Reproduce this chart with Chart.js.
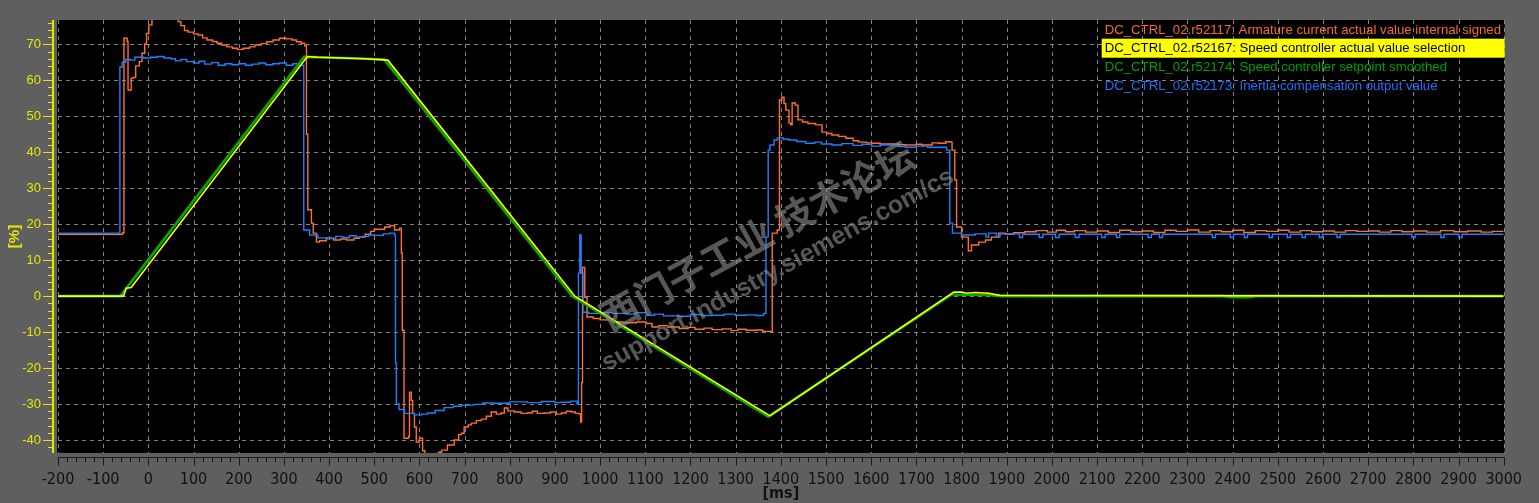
<!DOCTYPE html>
<html>
<head>
<meta charset="utf-8">
<script src="https://cdn.jsdelivr.net/npm/chart.js@4.4.1/dist/chart.umd.min.js"></script>
<style>
html, body { margin: 0; padding: 0; background: #5f5f5f; }
#wrap { width: 1539px; height: 503px; }
</style>
</head>
<body>
<div id="wrap"><canvas id="myChart" width="1539" height="503"></canvas></div>
<script>
// Trace names, as in the trace legend
var seriesNames = [
    'DC_CTRL_02.r52117: Armature current actual value internal signed',
    'DC_CTRL_02.r52167: Speed controller actual value selection',
    'DC_CTRL_02.r52174: Speed controller setpoint smoothed',
    'DC_CTRL_02.r52173: Inertia compensation output value'
];

// Tick labels
var xTicks = [-200, -100, 0, 100, 200, 300, 400, 500, 600, 700, 800, 900, 1000, 1100, 1200, 1300, 1400, 1500,
    1600, 1700, 1800, 1900, 2000, 2100, 2200, 2300, 2400, 2500, 2600, 2700, 2800, 2900, 3000];
var yTicks = [-40, -30, -20, -10, 0, 10, 20, 30, 40, 50, 60, 70];

// r52117 armature current [%] (sample-and-hold)
var curT = [-200, -57, -54, -47, -45, -38, -33, -28, -20, -14, -8, -4, 1, 8, 15, 40, 60, 66, 72, 80, 88, 100, 110, 120, 130, 142,
    152, 162, 174, 186, 197, 210, 224, 236, 250, 262, 276, 290, 305, 318, 328, 338, 346, 350, 353, 361, 365, 372, 379, 394,
    410, 425, 439, 455, 467, 480, 492, 500, 512, 523, 535, 545, 556, 560, 562, 566, 576, 578, 582, 585, 589, 593, 600, 607,
    612, 635, 642, 649, 662, 677, 687, 693, 699, 708, 715, 726, 737, 748, 759, 770, 781, 788, 796, 810, 825, 839, 850, 861,
    876, 890, 903, 914, 925, 936, 945, 954, 957, 959, 961, 966, 971, 985, 1000, 1027, 1050, 1080, 1102, 1115, 1130, 1150,
    1175, 1195, 1210, 1230, 1248, 1270, 1290, 1305, 1323, 1345, 1360, 1378, 1381, 1392, 1397, 1402, 1407, 1411, 1418, 1422,
    1425, 1432, 1438, 1448, 1460, 1477, 1491, 1502, 1513, 1528, 1544, 1560, 1572, 1590, 1601, 1620, 1639, 1660, 1676, 1700,
    1712, 1735, 1749, 1765, 1776, 1779, 1785, 1789, 1800, 1815, 1822, 1838, 1853, 1866, 1882, 1897, 1915, 1940, 1965, 1990,
    2010, 2030, 2050, 2075, 2100, 2125, 2150, 2175, 2200, 2225, 2250, 2275, 2300, 2325, 2350, 2375, 2400, 2425, 2450, 2475,
    2500, 2525, 2550, 2575, 2600, 2625, 2650, 2675, 2700, 2725, 2750, 2775, 2800, 2830, 2860, 2890, 2920, 2950, 2975, 3000];
var curV = [17.2, 17.6, 71.7, 70.8, 57.3, 60.6, 60.8, 64, 65.2, 67.5, 70, 73, 75.4, 77.5, 80, 82, 79, 76.3, 75.2, 73.8, 73.4, 72.9,
    72.6, 71.8, 71.2, 70.8, 70.3, 69.8, 69.3, 68.9, 68.6, 68.9, 69.3, 69.8, 70.2, 70.7, 71.2, 71.7, 71.5, 71.2, 70.7, 70.3,
    69.6, 45, 24, 20.3, 17.5, 15, 15.4, 16, 15.6, 15.9, 15.6, 16.1, 16.4, 17.2, 18, 18.6, 18.6, 19.2, 19.6, 18.4, 18.9, 12,
    -9.5, -39.5, -39, -26.7, -29, -32.6, -36.4, -40.6, -39.5, -43, -46, -46, -43.4, -42.8, -41.4, -40, -38.5, -38.1, -36.4,
    -35.8, -35.3, -34.6, -34.2, -33.4, -32.2, -32.8, -32.5, -31.1, -31.9, -32.2, -32.6, -32.5, -32, -32.6, -32.5, -32.2, -32.8,
    -32.5, -32, -32.2, -32.6, -32.8, -35, -24, 8, -0.3, -5.8, -6.2, -6.6, -7.2, -7.4, -7.2, -7.6, -8.6, -8.2, -8.6, -9, -8.7,
    -9.2, -8.9, -9.3, -9.1, -9.6, -9.2, -9.5, -9.4, -9.8, -10, 17.5, 18.4, 54.5, 55.3, 53.5, 51.7, 48.1, 47.6, 53.7, 53.1, 49,
    48.4, 48, 47.6, 45.6, 45.2, 44.8, 44.4, 43.9, 43.2, 42.8, 42.6, 42.5, 42.3, 42.3, 42.1, 42, 42.2, 42, 42.6, 42.5, 42.9, 42.8,
    40.6, 32.3, 19.2, 16.4, 12.6, 14.2, 15, 15.6, 16.4, 17.5, 17.2, 17.6, 17.9, 18.2, 17.8, 18.3, 17.9, 18.2, 17.8, 18.1, 17.7,
    18.3, 17.9, 18.1, 17.7, 18.3, 18, 18.4, 17.8, 18.2, 17.9, 18.3, 17.7, 18.2, 18, 18.3, 17.8, 18.2, 17.9, 18.1, 17.8, 18.2,
    18, 18.1, 17.8, 18.2, 17.9, 18.1, 17.8, 18.2, 17.9, 18.1, 17.8, 18, 18];

// r52167 speed actual value [%]
var spdT = [-200, -55, -49, -38, 352, 375, 430, 480, 530, 944, 1376, 1783, 1800, 1812, 1830, 1860, 1885, 3000];
var spdV = [0, 0, 2.2, 2.4, 66.6, 66.4, 66.2, 66.0, 65.6, 0, -33.3, 1.1, 1.1, 0.8, 1.0, 0.8, 0.2, 0];

// r52174 speed setpoint smoothed [%]
var setT = [-200, -62, 345, 380, 430, 480, 522, 938, 1372, 1778, 1790, 1860, 1885, 2380, 2395, 2440, 2450, 3000];
var setV = [0, 0, 66.5, 66.4, 66.2, 66.0, 65.8, 0, -33.5, 0.5, 0.4, 0.3, 0, 0, -0.3, -0.3, 0, 0];

// r52173 inertia compensation output [%] (sample-and-hold)
var inrT = [-200, -63, -58, -50, -40, -30, -10, 5, 20, 35, 50, 60, 72, 85, 100, 112, 125, 140, 155, 170, 185, 200, 215, 230,
    245, 260, 275, 290, 305, 320, 335, 344, 357, 375, 401, 415, 430, 445, 460, 474, 488, 500, 520, 534, 545, 547, 549, 555,
    567, 589, 605, 618, 635, 655, 675, 693, 720, 740, 766, 800, 839, 870, 900, 914, 935, 949, 952, 955, 958, 962, 975, 1000,
    1027, 1060, 1080, 1102, 1120, 1140, 1175, 1200, 1225, 1248, 1275, 1300, 1323, 1345, 1362, 1367, 1372, 1376, 1385, 1392,
    1405, 1418, 1435, 1455, 1475, 1490, 1513, 1535, 1560, 1580, 1601, 1620, 1639, 1660, 1676, 1700, 1725, 1749, 1767, 1774,
    1780, 1800, 1830, 1854, 1860, 1877, 1885, 1928, 1935, 1972, 1980, 2008, 2016, 2052, 2060, 2110, 2118, 2143, 2150, 2213,
    2220, 2238, 2245, 2355, 2362, 2395, 2402, 2426, 2433, 2481, 2488, 2521, 2528, 2554, 2561, 2592, 2599, 2631, 2638, 2797,
    2804, 2861, 2868, 2901, 2908, 3000];
var inrV = [17.5, 63.7, 65, 65.8, 65.6, 66.4, 66.2, 66.4, 66.6, 66.2, 66, 65.4, 65.8, 65.2, 64.8, 65.3, 64.5, 64.9, 64.2, 64.6,
    64.3, 64.6, 64.2, 64.5, 64.8, 64.3, 64.6, 64.8, 64.2, 64.6, 64.2, 18.4, 17, 16.2, 16.1, 16.6, 16.3, 16.8, 16.4, 16.6, 17,
    16.9, 17.3, 17.5, 17, -18.6, -30, -31.5, -32.6, -33, -32.8, -32.5, -31.8, -31, -30.6, -30.3, -30.1, -29.7, -29.8, -29.4,
    -29.6, -29.3, -29.6, -29.5, -29.2, -30, 6.4, 17, 6.4, -4.5, -4.8, -4.6, -4.8, -5, -4.6, -5.3, -5, -5.5, -5.6, -5.1, -5.4,
    -5.3, -5, -5.3, -5.2, -5.4, -4.8, 16.4, 40.6, 42, 43.4, 44, 43.6, 43.4, 43, 42.5, 42.8, 42.3, 42, 42.4, 41.9, 42.2, 41.7,
    42, 42, 41.6, 41.4, 41.7, 41.4, 41.4, 40.6, 20.3, 17.5, 17, 17.3, 16.4, 17.5, 16.4, 17.3, 16.3, 17.2, 16.3, 17.2, 16.3,
    17.2, 16.3, 17.2, 16.3, 17.2, 16.3, 17.2, 16.3, 17.2, 16.3, 17.2, 16.3, 17.2, 16.3, 17.2, 16.3, 17.2, 16.3, 17.2, 16.3,
    17.2, 16.3, 17.2, 16.3, 17.2, 16.3, 17.2, 16.3, 17.2, 16.3, 17.2, 16.3, 17.2, 17.2];

function toPoints(ts, vs) {
    var out = [];
    for (var i = 0; i < ts.length; i++) {
        out.push({ x: ts[i], y: vs[i] });
    }
    return out;
}

var YELLOW_AXIS = '#e6e600';
var narrowFont = "'Liberation Sans Narrow', 'DejaVu Sans Condensed', 'Arial Narrow', sans-serif";
var plainFont = "'Liberation Sans', Arial, sans-serif";

// black plot area, dashed grid, axis lines and minor/major tick marks
var axisMarks = {
    id: 'axisMarks',
    beforeDraw: function (chart) {
        var ctx = chart.ctx, a = chart.chartArea;
        ctx.save();
        ctx.fillStyle = '#5f5f5f';
        ctx.fillRect(0, 0, chart.width, chart.height);
        ctx.fillStyle = '#000000';
        ctx.fillRect(a.left - 1, a.top, a.right - a.left + 2, a.bottom - a.top);
        ctx.restore();
    },
    beforeDatasetsDraw: function (chart) {
        var ctx = chart.ctx, a = chart.chartArea;
        var xs = chart.scales.x, ys = chart.scales.y;
        ctx.save();
        ctx.strokeStyle = '#858585';
        ctx.lineWidth = 1;
        ctx.setLineDash([4, 4]);
        ctx.beginPath();
        xTicks.forEach(function (t) {
            var px = Math.round(xs.getPixelForValue(t)) + 0.5;
            ctx.moveTo(px, a.top);
            ctx.lineTo(px, a.bottom);
        });
        yTicks.forEach(function (v) {
            var py = Math.round(ys.getPixelForValue(v)) + 0.5;
            ctx.moveTo(a.left, py);
            ctx.lineTo(a.right, py);
        });
        ctx.stroke();
        ctx.restore();
    },
    afterDraw: function (chart) {
        var ctx = chart.ctx, a = chart.chartArea;
        var xs = chart.scales.x, ys = chart.scales.y;
        ctx.save();
        // y axis
        var yx = a.left - 5;
        ctx.strokeStyle = YELLOW_AXIS;
        ctx.lineWidth = 2;
        ctx.beginPath();
        ctx.moveTo(yx, a.top);
        ctx.lineTo(yx, a.bottom);
        ctx.stroke();
        ctx.lineWidth = 1;
        ctx.beginPath();
        for (var v = Math.ceil(ys.min / 2) * 2; v <= ys.max; v += 2) {
            var py = Math.round(ys.getPixelForValue(v)) + 0.5;
            var len = (v % 10 === 0) ? 10 : 5;
            ctx.moveTo(yx - len, py);
            ctx.lineTo(yx, py);
        }
        ctx.stroke();
        // x axis
        var xy = a.bottom + 4.5;
        ctx.strokeStyle = '#1c1c1c';
        ctx.beginPath();
        ctx.moveTo(a.left, xy);
        ctx.lineTo(a.right + 1, xy);
        for (var t = xs.min; t <= xs.max; t += 20) {
            var px = Math.round(xs.getPixelForValue(t)) + 0.5;
            var tl = (t % 100 === 0) ? 8 : 5;
            ctx.moveTo(px, xy);
            ctx.lineTo(px, xy + tl);
        }
        ctx.stroke();
        ctx.restore();
    }
};

// watermark and trace legend inside the plot
var overlay = {
    id: 'overlay',
    afterDatasetsDraw: function (chart) {
        var ctx = chart.ctx, a = chart.chartArea;
        ctx.save();
        ctx.translate(757, 236);
        ctx.rotate(-0.5);
        ctx.fillStyle = 'rgba(140, 140, 140, 0.62)';
        ctx.textAlign = 'center';
        ctx.textBaseline = 'middle';
        ctx.font = "bold 38px 'Noto Sans CJK SC', sans-serif";
        ctx.fillText('西门子工业 技术论坛', 0, 0);
        ctx.font = "bold 25px 'Liberation Sans', Arial, sans-serif";
        ctx.fillText('support.industry.siemens.com/cs', 2, 40);
        ctx.restore();

        ctx.save();
        ctx.font = '13.2px ' + plainFont;
        ctx.textBaseline = 'middle';
        var x0 = a.right - 399;
        chart.data.datasets.forEach(function (ds, i) {
            var ry = a.top + 9.5 + i * 18.7;
            if (i === 1) {
                ctx.fillStyle = '#ffff00';
                ctx.fillRect(x0 - 3, ry - 9.5, a.right - x0 + 4, 19);
                ctx.fillStyle = '#000000';
            } else {
                ctx.fillStyle = ds.legendColor;
            }
            ctx.fillText(ds.label, x0, ry + 0.5);
        });
        ctx.restore();
    }
};

var ctx = document.getElementById('myChart').getContext('2d');
var myChart = new Chart(ctx, {
    type: 'line',
    data: {
        datasets: [{
            label: seriesNames[0],
            data: toPoints(curT, curV),
            borderColor: '#ff6f32',
            legendColor: '#f46a34',
            borderWidth: 1.4,
            stepped: true,
            order: 4
        }, {
            label: seriesNames[1],
            data: toPoints(spdT, spdV),
            borderColor: '#ffff00',
            legendColor: '#000000',
            borderWidth: 1.6,
            order: 1
        }, {
            label: seriesNames[2],
            data: toPoints(setT, setV),
            borderColor: '#00a800',
            legendColor: '#00a000',
            borderWidth: 2.6,
            order: 2
        }, {
            label: seriesNames[3],
            data: toPoints(inrT, inrV),
            borderColor: '#1f80ff',
            legendColor: '#1a70ff',
            borderWidth: 1.4,
            stepped: true,
            order: 3
        }]
    },
    options: {
        responsive: false,
        animation: false,
        devicePixelRatio: 1,
        elements: { point: { radius: 0 }, line: { tension: 0, borderJoinStyle: 'miter' } },
        datasets: { line: { clip: 0 } },
        layout: { padding: { left: 0, right: 33, top: 20, bottom: 0 } },
        plugins: { legend: { display: false }, tooltip: { enabled: false } },
        scales: {
            x: {
                type: 'linear',
                min: -200,
                max: 3000,
                afterBuildTicks: function (s) { s.ticks = xTicks.map(function (v) { return { value: v }; }); },
                afterFit: function (s) { s.height = 50; },
                grid: { display: false, drawTicks: false },
                border: { display: false },
                ticks: {
                    autoSkip: false,
                    maxRotation: 0,
                    padding: 17,
                    color: '#111111',
                    font: { family: narrowFont, size: 16 },
                    callback: function (v) { return String(v); }
                },
                title: {
                    display: true,
                    text: '[ms]',
                    color: '#111111',
                    font: { family: narrowFont, size: 16, weight: 'bold' },
                    padding: { top: 0, bottom: 0 }
                }
            },
            y: {
                type: 'linear',
                min: -43.61,
                max: 76.76,
                afterBuildTicks: function (s) { s.ticks = yTicks.map(function (v) { return { value: v }; }); },
                afterFit: function (s) { s.width = 58; },
                grid: { display: false, drawTicks: false },
                border: { display: false },
                ticks: {
                    padding: 17,
                    color: YELLOW_AXIS,
                    font: { family: plainFont, size: 13, lineHeight: 0.2 },
                    callback: function (v) { return String(v); }
                },
                title: {
                    display: true,
                    text: '[%]',
                    color: YELLOW_AXIS,
                    font: { family: plainFont, size: 15, weight: 'bold' },
                    padding: { top: 6, bottom: 0 }
                }
            }
        }
    },
    plugins: [axisMarks, overlay]
});
</script>
</body>
</html>
